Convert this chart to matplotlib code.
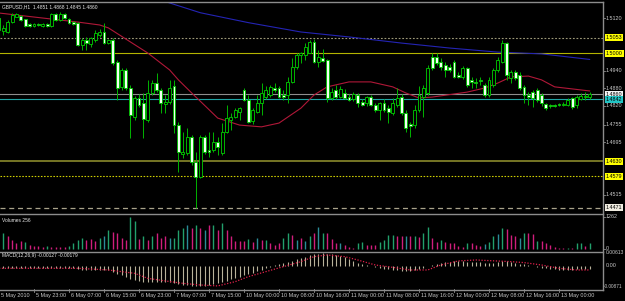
import matplotlib
matplotlib.use("Agg")
import matplotlib.pyplot as plt
import matplotlib.transforms as mtransforms
import numpy as np

plt.rcParams['font.family'] = ['Liberation Sans', 'DejaVu Sans']

# ---------------- data ----------------
price_header = "GBPUSD,H1  1.4851 1.4868 1.4845 1.4860"
volume_header = "Volumes 256"
macd_header = "MACD(12,26,9) -0.00127 -0.00179"

opens = [1.5121, 1.5076, 1.5073, 1.5107, 1.5124, 1.5128, 1.5118, 1.5100, 1.5094, 1.5100,
         1.5094, 1.5100, 1.5094, 1.5135, 1.5114, 1.5135, 1.5118, 1.5107, 1.5104, 1.5028,
         1.5046, 1.5032, 1.5046, 1.5063, 1.5073, 1.5035, 1.5046, 1.4970, 1.4885, 1.4943,
         1.4881, 1.4782, 1.4847, 1.4830, 1.4771, 1.4864, 1.4898, 1.4874, 1.4826, 1.4833,
         1.4888, 1.4754, 1.4655, 1.4658, 1.4713, 1.4628, 1.4576, 1.4713, 1.4669, 1.4669,
         1.4696, 1.4658, 1.4730, 1.4771, 1.4782, 1.4799, 1.4874, 1.4840, 1.4768, 1.4799,
         1.4830, 1.4850, 1.4857, 1.4881, 1.4881, 1.4857, 1.4857, 1.4902, 1.4953, 1.4994,
         1.4994, 1.5001, 1.5039, 1.4970, 1.4984, 1.4977, 1.4847, 1.4874, 1.4850, 1.4864,
         1.4850, 1.4843, 1.4857, 1.4833, 1.4830, 1.4850, 1.4823, 1.4806, 1.4830, 1.4813,
         1.4795, 1.4823, 1.4850, 1.4795, 1.4758, 1.4754, 1.4806, 1.4850, 1.4864, 1.4987,
         1.4987, 1.4970, 1.4960, 1.4953, 1.4970, 1.4926, 1.4919, 1.4950, 1.4909, 1.4902,
         1.4909, 1.4891, 1.4857, 1.4891, 1.4943, 1.4970, 1.5035, 1.4915, 1.4936, 1.4926,
         1.4885, 1.4857, 1.4867, 1.4874, 1.4857, 1.4826, 1.4823, 1.4823, 1.4826, 1.4823,
         1.4823, 1.4847, 1.4823, 1.4843, 1.4850, 1.4851]
highs = [1.5124, 1.5097, 1.5114, 1.5138, 1.5138, 1.5131, 1.5118, 1.5104, 1.5104, 1.5104,
         1.5104, 1.5104, 1.5138, 1.5138, 1.5141, 1.5138, 1.5121, 1.5111, 1.5107, 1.5052,
         1.5056, 1.5056, 1.5080, 1.5083, 1.5104, 1.5049, 1.5052, 1.4977, 1.4950, 1.4950,
         1.4891, 1.4854, 1.4861, 1.4864, 1.4909, 1.4909, 1.4933, 1.4881, 1.4857, 1.4909,
         1.4909, 1.4765, 1.4730, 1.4744, 1.4720, 1.4662, 1.4720, 1.4720, 1.4730, 1.4730,
         1.4713, 1.4761, 1.4823, 1.4795, 1.4813, 1.4816, 1.4881, 1.4857, 1.4813, 1.4857,
         1.4898, 1.4888, 1.4891, 1.4898, 1.4888, 1.4874, 1.4919, 1.4984, 1.5001, 1.5004,
         1.5035, 1.5046, 1.5049, 1.5011, 1.5015, 1.4981, 1.4881, 1.4891, 1.4888, 1.4878,
         1.4861, 1.4867, 1.4864, 1.4843, 1.4854, 1.4857, 1.4830, 1.4833, 1.4843, 1.4823,
         1.4847, 1.4881, 1.4861, 1.4806, 1.4765, 1.4823, 1.4888, 1.4891, 1.4960, 1.5001,
         1.5001, 1.4984, 1.4970, 1.4963, 1.4977, 1.4936, 1.4957, 1.4953, 1.4919, 1.4915,
         1.4919, 1.4898, 1.4919, 1.4950, 1.4987, 1.5046, 1.5039, 1.4943, 1.4943, 1.4936,
         1.4891, 1.4867, 1.4874, 1.4881, 1.4864, 1.4830, 1.4826, 1.4826, 1.4830, 1.4833,
         1.4847, 1.4850, 1.4857, 1.4864, 1.4867, 1.4868]
lows = [1.5076, 1.5063, 1.5070, 1.5104, 1.5124, 1.5111, 1.5090, 1.5090, 1.5090, 1.5094,
        1.5090, 1.5090, 1.5090, 1.5111, 1.5111, 1.5118, 1.5100, 1.5097, 1.5025, 1.5011,
        1.5011, 1.5022, 1.5039, 1.5056, 1.5032, 1.5032, 1.4960, 1.4840, 1.4874, 1.4874,
        1.4710, 1.4771, 1.4816, 1.4710, 1.4765, 1.4857, 1.4867, 1.4795, 1.4795, 1.4826,
        1.4727, 1.4593, 1.4642, 1.4652, 1.4617, 1.4470, 1.4573, 1.4655, 1.4645, 1.4662,
        1.4652, 1.4652, 1.4727, 1.4737, 1.4778, 1.4771, 1.4837, 1.4761, 1.4758, 1.4795,
        1.4789, 1.4843, 1.4850, 1.4867, 1.4847, 1.4840, 1.4830, 1.4898, 1.4946, 1.4967,
        1.4977, 1.5001, 1.4967, 1.4953, 1.4970, 1.4833, 1.4840, 1.4843, 1.4847, 1.4843,
        1.4837, 1.4837, 1.4816, 1.4819, 1.4819, 1.4819, 1.4799, 1.4771, 1.4799, 1.4761,
        1.4789, 1.4816, 1.4789, 1.4730, 1.4713, 1.4744, 1.4799, 1.4782, 1.4857, 1.4943,
        1.4960, 1.4943, 1.4919, 1.4936, 1.4915, 1.4915, 1.4912, 1.4885, 1.4881, 1.4881,
        1.4891, 1.4850, 1.4850, 1.4885, 1.4936, 1.4967, 1.4909, 1.4898, 1.4909, 1.4874,
        1.4830, 1.4823, 1.4816, 1.4833, 1.4819, 1.4806, 1.4813, 1.4816, 1.4819, 1.4819,
        1.4819, 1.4809, 1.4813, 1.4840, 1.4840, 1.4845]
closes = [1.5080, 1.5087, 1.5107, 1.5131, 1.5135, 1.5114, 1.5094, 1.5094, 1.5100, 1.5097,
          1.5100, 1.5094, 1.5135, 1.5114, 1.5135, 1.5121, 1.5104, 1.5100, 1.5028, 1.5046,
          1.5035, 1.5052, 1.5070, 1.5073, 1.5035, 1.5046, 1.4967, 1.4881, 1.4943, 1.4881,
          1.4789, 1.4847, 1.4823, 1.4775, 1.4864, 1.4898, 1.4874, 1.4830, 1.4833, 1.4881,
          1.4754, 1.4662, 1.4662, 1.4713, 1.4628, 1.4576, 1.4713, 1.4662, 1.4662, 1.4696,
          1.4679, 1.4730, 1.4778, 1.4782, 1.4806, 1.4813, 1.4840, 1.4765, 1.4806, 1.4830,
          1.4864, 1.4874, 1.4885, 1.4874, 1.4850, 1.4850, 1.4902, 1.4953, 1.4994, 1.5001,
          1.5022, 1.5039, 1.4970, 1.4987, 1.4974, 1.4847, 1.4867, 1.4850, 1.4878, 1.4847,
          1.4840, 1.4861, 1.4830, 1.4823, 1.4850, 1.4823, 1.4806, 1.4830, 1.4806, 1.4799,
          1.4830, 1.4847, 1.4795, 1.4744, 1.4751, 1.4806, 1.4857, 1.4881, 1.4950, 1.4950,
          1.4967, 1.4953, 1.4943, 1.4943, 1.4919, 1.4919, 1.4950, 1.4891, 1.4902, 1.4898,
          1.4905, 1.4857, 1.4909, 1.4943, 1.4977, 1.5035, 1.4926, 1.4936, 1.4915, 1.4881,
          1.4857, 1.4850, 1.4847, 1.4840, 1.4830, 1.4813, 1.4819, 1.4819, 1.4823, 1.4826,
          1.4840, 1.4816, 1.4850, 1.4854, 1.4854, 1.4860]

# moving averages, read at sampled bars
ma_blue_bars = [30, 37, 46, 57, 69, 80, 92, 103, 114, 124, 135]
ma_blue_vals = [1.5220, 1.5182, 1.5139, 1.5105, 1.5073, 1.5056, 1.5035, 1.5018, 1.5004, 1.4998, 1.4979]
ma_red_bars = [0, 18, 23, 25, 34, 39, 41, 45, 46, 50, 55, 60, 64, 69, 72, 75, 80, 85, 90, 93,
               96, 99, 107, 111, 114, 117, 121, 124, 127, 131, 135]
ma_red_vals = [1.5138, 1.5107, 1.5097, 1.5087, 1.5001, 1.4943, 1.4909, 1.4850, 1.4836, 1.4778,
               1.4754, 1.4748, 1.4761, 1.4812, 1.4857, 1.4885, 1.4902, 1.4902, 1.4885, 1.4864,
               1.4847, 1.4850, 1.4867, 1.4881, 1.4898, 1.4919, 1.4922, 1.4909, 1.4885, 1.4878, 1.4871]

# horizontal levels
level_vals = [1.5053, 1.5000, 1.4630, 1.4579, 1.4471]
bid_price = 1.4860
ask_line = 1.4842
price_ticks = [1.5120, 1.4940, 1.4880, 1.4820, 1.4755, 1.4695, 1.4515]

volumes = [563, 629, 524, 367, 236, 301, 262, 170, 131, 105,
           79, 105, 79, 79, 79, 79, 105, 236, 367, 432,
           367, 393, 301, 432, 498, 760, 655, 629, 432, 367,
           1262, 1087, 393, 524, 341, 498, 629, 432, 498, 432,
           432, 760, 825, 956, 825, 956, 825, 760, 956, 956,
           760, 1022, 760, 498, 328, 301, 301, 393, 262, 432,
           367, 367, 236, 170, 236, 432, 629, 563, 367, 432,
           301, 498, 616, 878, 616, 616, 380, 223, 249, 157,
           92, 26, 249, 288, 157, 157, 157, 288, 354, 550,
           550, 511, 511, 511, 511, 511, 485, 642, 852, 419,
           288, 354, 262, 249, 223, 118, 92, 249, 223, 157,
           118, 197, 288, 511, 590, 812, 786, 550, 511, 419,
           642, 616, 590, 328, 328, 223, 157, 92, 52, 26,
           52, 52, 223, 223, 118, 256]
vol_flags = ("ggmmmmgmmm" "mgmmmmgggg" "mmmgtgmmmm" "ggmgmgmmmt" "gggtmgmtmg"
             "mgmmmmmgmt" "mgmmmggmtm" "tgmtgmmmtm" "mmggmmmggg" "gmmtmgmggm"
             "mgmmmmmgmm" "mtggtgmmmt" "gmmgmmmmmm" "gmggmg")
vol_max_label = 1262

macd = [-0.0009, -0.0009, -0.0008, -0.0008, -0.0008, -0.0009, -0.0009, -0.0010, -0.0010, -0.0010,
        -0.0010, -0.0010, -0.0009, -0.0009, -0.0009, -0.0009, -0.0010, -0.0011, -0.0014, -0.0017,
        -0.0019, -0.0020, -0.0020, -0.0019, -0.0019, -0.0020, -0.0026, -0.0034, -0.0040, -0.0046,
        -0.0055, -0.0060, -0.0063, -0.0067, -0.0068, -0.0068, -0.0067, -0.0068, -0.0068, -0.0067,
        -0.0071, -0.0078, -0.0081, -0.0082, -0.0084, -0.0087, -0.0086, -0.0084, -0.0081, -0.0078,
        -0.0074, -0.0070, -0.0064, -0.0058, -0.0052, -0.0046, -0.0040, -0.0035, -0.0029, -0.0023,
        -0.0017, -0.0011, -0.0005, 0.0001, 0.0006, 0.0010, 0.0015, 0.0021, 0.0027, 0.0032,
        0.0038, 0.0043, 0.0047, 0.0050, 0.0052, 0.0051, 0.0049, 0.0046, 0.0042, 0.0036,
        0.0028, 0.0020, 0.0012, 0.0006, 0.0002, -0.0002, -0.0006, -0.0010, -0.0013, -0.0016,
        -0.0018, -0.0020, -0.0021, -0.0022, -0.0022, -0.0020, -0.0016, -0.0010, -0.0003, 0.0003,
        0.0008, 0.0012, 0.0015, 0.0017, 0.0018, 0.0018, 0.0018, 0.0017, 0.0016, 0.0015,
        0.0014, 0.0012, 0.0011, 0.0012, 0.0015, 0.0019, 0.0018, 0.0016, 0.0013, 0.0009,
        0.0005, 0.0001, -0.0002, -0.0005, -0.0008, -0.0011, -0.0013, -0.0015, -0.0017, -0.0018,
        -0.0018, -0.0017, -0.0016, -0.0015, -0.0014, -0.0013]
signal_bars = [0, 18, 25, 31, 34, 38, 42, 46, 50, 54, 57, 61, 65, 69, 72, 75, 79, 82, 86, 90,
               94, 98, 101, 105, 109, 117, 120, 124, 128, 132, 135]
signal_vals = [-0.0011, -0.0011, -0.0018, -0.0032, -0.0053, -0.0064, -0.0074, -0.0081, -0.0085, -0.0067,
               -0.0046, -0.0025, -0.0004, 0.0017, 0.0038, 0.0045, 0.0038, 0.0024, 0.0003, -0.0007,
               -0.0018, -0.0018, 0.0003, 0.0020, 0.0024, 0.0017, 0.0013, 0.0003, -0.0011, -0.0018, -0.0018]
macd_max_label = "0.00613"
macd_min_label = "-0.00871"

time_labels = ["5 May 2010", "5 May 23:00", "6 May 07:00", "6 May 15:00", "6 May 23:00",
               "7 May 07:00", "7 May 15:00", "10 May 00:00", "10 May 08:00", "10 May 16:00",
               "11 May 00:00", "11 May 08:00", "11 May 16:00", "12 May 00:00", "12 May 08:00",
               "12 May 16:00", "13 May 00:00"]
label_every = 8

# ---------------- figure ----------------
W, H = 625, 301
fig = plt.figure(figsize=(W / 100, H / 100), dpi=100, facecolor='#000000')


def pax(x0, y0, x1, y1):
    ax = fig.add_axes([x0 / W, 1 - y1 / H, (x1 - x0) / W, (y1 - y0) / H])
    ax.set_facecolor('#000000')
    for s in ax.spines.values():
        s.set_visible(False)
    ax.set_xticks([])
    ax.set_yticks([])
    return ax


XL = (0.2286, 138.057)
GRAY = '#8c8c8c'
TXT = '#c8c8c8'
FS = 3.9

n = len(opens)
idx = np.arange(n)
o, h, l, c = (np.array(a) for a in (opens, highs, lows, closes))

# ---- price panel ----
axp = pax(0, 2, 603, 213)
axp.set_xlim(*XL)
axp.set_ylim(1.44529, 1.51757)

level_styles = [
    dict(color='#9c9878', lw=0.8, ls=(0, (1.6, 1.6))),
    dict(color='#b4b400', lw=0.8, ls='-'),
    dict(color='#767626', lw=1.4, ls='-'),
    dict(color='#d0d000', lw=0.8, ls=(0, (1.4, 1.4))),
    dict(color='#a8a28a', lw=0.9, ls=(0, (4, 3))),
]
level_box = ['#ffff00', '#ffff00', '#ffff00', '#ffff00', '#f0ece0']
for v, st in zip(level_vals, level_styles):
    axp.axhline(v, zorder=1, **st)
axp.axhline(bid_price, color='#8e8e8e', lw=0.8, zorder=1)
axp.axhline(ask_line, color='#1fa5a5', lw=0.8, zorder=1)

axp.plot(ma_blue_bars, ma_blue_vals, color='#2424b4', lw=0.8, zorder=2)
axp.plot(ma_red_bars, ma_red_vals, color='#b01838', lw=0.8, zorder=2)

bull = c >= o
axp.vlines(idx, l, h, color='#00b400', lw=0.7, zorder=3)
bottom = np.minimum(o, c)
height = np.maximum(np.abs(c - o), 0.00006)
axp.bar(idx, height, bottom=bottom, width=0.64,
        color=['#000000' if b else '#f2fff2' for b in bull],
        edgecolor='#00c000', linewidth=0.65, zorder=4)

trp = mtransforms.blended_transform_factory(axp.transAxes, axp.transData)
for v in price_ticks:
    axp.text(1.0045, v, f'{v:.4f}', transform=trp, color=TXT, fontsize=FS,
             va='center', ha='left', clip_on=False)
    axp.plot([1.0, 1.004], [v, v], transform=trp, color=GRAY, lw=0.6, clip_on=False)

box_items = [(v, f'{v:.4f}', bc) for v, bc in zip(level_vals, level_box)]
box_items += [(bid_price, f'{bid_price:.4f}', '#f4f4f4'), (ask_line, f'{ask_line:.4f}', '#22c4c4')]
for v, s, bc in box_items:
    axp.text(1.0045, v, s, transform=trp, color='#000000', fontsize=FS, va='center', ha='left',
             clip_on=False, zorder=6,
             bbox=dict(boxstyle='square,pad=0.18', fc=bc, ec='none'))

# ---- volume panel ----
axv = pax(0, 215, 603, 251)
axv.set_xlim(*XL)
axv.set_ylim(-79, 1340)
vcol = {'g': '#22a06c', 'm': '#d01e7c', 't': '#2a8c98'}
axv.vlines(idx, 0, volumes, colors=[vcol[f] for f in vol_flags], lw=1.0)
trv = mtransforms.blended_transform_factory(axv.transAxes, axv.transData)
for v in (vol_max_label, 0):
    axv.text(1.0045, v, str(v), transform=trv, color=TXT, fontsize=FS, va='center',
             ha='left', clip_on=False)
    axv.plot([1.0, 1.004], [v, v], transform=trv, color=GRAY, lw=0.6, clip_on=False)

# ---- MACD panel ----
axm = pax(0, 253, 603, 289)
axm.set_xlim(*XL)
axm.set_ylim(-0.00979, 0.00533)
axm.vlines(idx, 0, macd, colors='#b8b29a', lw=0.8)
axm.plot(signal_bars, signal_vals, color='#e0204a', lw=0.9, ls=(0, (1, 1.3)))
trm = mtransforms.blended_transform_factory(axm.transAxes, axm.transData)
axm.text(1.0045, 0.0, "0.00", transform=trm, color=TXT, fontsize=FS, va='center', ha='left', clip_on=False)
axm.text(1.0045, 1.0, macd_max_label, transform=axm.transAxes, color=TXT, fontsize=3.6,
         va='center', ha='left', clip_on=False)
axm.text(1.002, 0.06, macd_min_label, transform=axm.transAxes, color=TXT, fontsize=3.4,
         va='center', ha='left', clip_on=False)

# time labels
trt = mtransforms.blended_transform_factory(axm.transData, axm.transAxes)
for k, lab in enumerate(time_labels):
    b = k * label_every
    axm.text(b + 0.4, -0.17, lab, transform=trt, color=TXT, fontsize=FS, va='center',
             ha='left', clip_on=False)
    axm.plot([b, b], [-0.0, -0.09], transform=trt, color=GRAY, lw=0.6, clip_on=False)

# ---- overlay: borders and headers ----
ov = fig.add_axes([0, 0, 1, 1], facecolor='none')
ov.set_xlim(0, W)
ov.set_ylim(H, 0)
ov.axis('off')
for y in (1.5, 214, 252, 289.5):
    ov.plot([0, 603], [y, y], color=GRAY, lw=1.0)
ov.plot([603, 603], [1.5, 289.5], color=GRAY, lw=1.0)
ov.text(2, 6.5, price_header, color='#e8e8e8', fontsize=3.5, va='center', ha='left')
ov.text(2, 221, volume_header, color='#e8e8e8', fontsize=3.5, va='center', ha='left')
ov.text(2, 256, macd_header, color='#e8e8e8', fontsize=3.5, va='center', ha='left')

fig.savefig('out.png', dpi=100, facecolor=fig.get_facecolor())
